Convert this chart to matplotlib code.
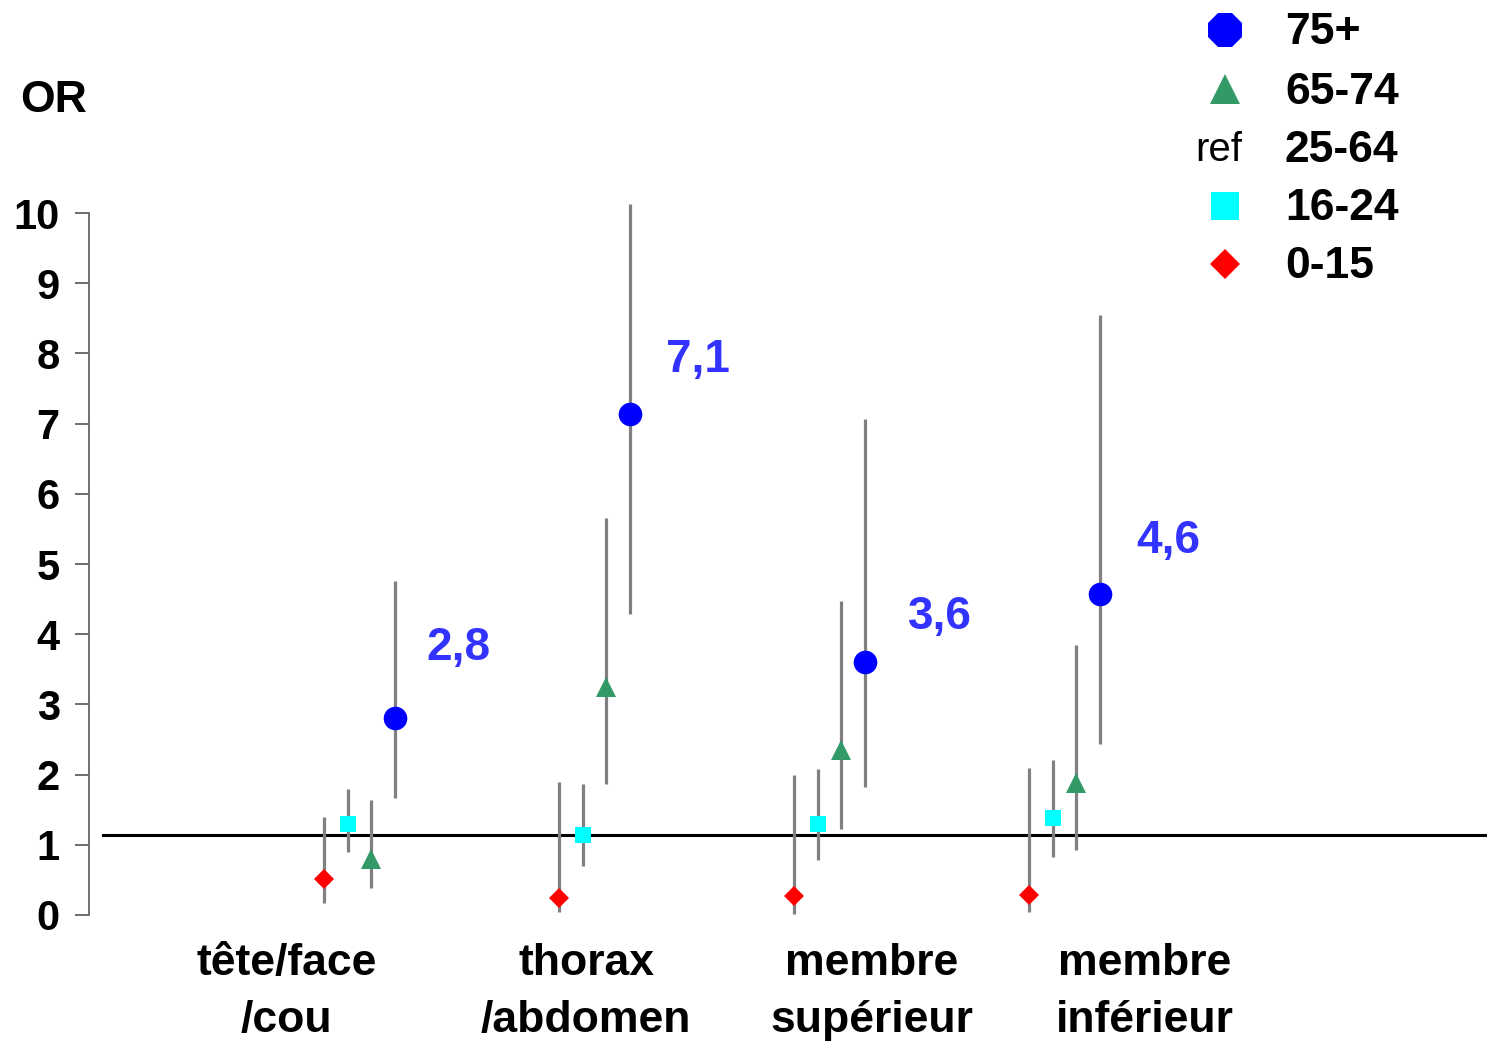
import matplotlib
matplotlib.use("Agg")
import matplotlib.pyplot as plt
import matplotlib.transforms as mtransforms

plt.rcParams['font.family'] = ['Liberation Sans', 'DejaVu Sans']

# Body regions (x categories)
regions = ["tête/face\n/cou", "thorax\n/abdomen", "membre\nsupérieur", "membre\ninférieur"]

# Odds ratios with 95% CI, one list per age band (ref = 25-64)
or_0_15 = [0.51, 0.24, 0.27, 0.28]
lo_0_15 = [0.17, 0.04, 0.02, 0.04]
hi_0_15 = [1.40, 1.89, 2.00, 2.09]

or_16_24 = [1.30, 1.14, 1.30, 1.38]
lo_16_24 = [0.90, 0.70, 0.78, 0.83]
hi_16_24 = [1.80, 1.86, 2.08, 2.21]

or_65_74 = [0.80, 3.25, 2.35, 1.88]
lo_65_74 = [0.38, 1.86, 1.22, 0.92]
hi_65_74 = [1.64, 5.66, 4.48, 3.84]

or_75 = [2.81, 7.14, 3.61, 4.57]
lo_75 = [1.67, 4.29, 1.82, 2.44]
hi_75 = [4.76, 10.13, 7.07, 8.55]

value_labels = ["2,8", "7,1", "3,6", "4,6"]
ref_level = 1.14

legend_labels = ["75+", "65-74", "25-64", "16-24", "0-15"]
yticks = list(range(0, 11))

# layout tweaks
label_dx = [0.27, 0.29, 0.32, 0.29]       # value label shift right of the 75+ point
label_dy = [1.0, 0.77, 0.63, 0.76]        # value label height above the point
region_dx = [-0.16, 0.115, 0.33, 0.49]    # category label shift

fig = plt.figure(figsize=(14.87, 10.43), dpi=100)
ax = fig.add_axes([89 / 1487, 128 / 1043, (1483 - 89) / 1487, 702 / 1043])

series = [
    (or_0_15, lo_0_15, hi_0_15, 0.0, 'D', 'red', 10),
    (or_16_24, lo_16_24, hi_16_24, 0.1, 's', 'cyan', 12),
    (or_65_74, lo_65_74, hi_65_74, 0.2, '^', '#339966', 14.5),
    (or_75, lo_75, hi_75, 0.3, 'o', 'blue', 17),
]

# reference line
ax.plot([-0.94, 5.0], [ref_level, ref_level], color='black', lw=2.2, zorder=2, clip_on=False)

for vals, lo, hi, off, mk, col, ms in series:
    xs = [i + off for i in range(len(vals))]
    ax.vlines(xs, lo, hi, color='#808080', lw=2.3, zorder=3, clip_on=False)
    ax.plot(xs, vals, linestyle='none', marker=mk, color=col, markersize=ms,
            markeredgewidth=0, zorder=4, clip_on=False)

for i, (v, lab) in enumerate(zip(or_75, value_labels)):
    ax.text(i + 0.3 + label_dx[i], v + label_dy[i], lab, color='#3333FF', fontsize=33,
            fontweight='bold', ha='center', va='center')

trans = mtransforms.blended_transform_factory(ax.transData, ax.transAxes)
for i, name in enumerate(regions):
    ax.text(i + region_dx[i], -0.04, name, transform=trans, ha='center', va='top',
            fontsize=32, fontweight='bold', linespacing=1.5)

ax.set_xlim(-1.0, 4.93)
ax.set_ylim(0, 10)
ax.set_yticks(yticks)
ax.set_yticklabels([str(t) for t in yticks], fontsize=30, fontweight='bold')
ax.tick_params(axis='y', length=10, width=1.2, color='#555555', pad=11)
ax.set_xticks([])
for s in ['top', 'right', 'bottom']:
    ax.spines[s].set_visible(False)
ax.spines['left'].set_color('#666666')
ax.spines['left'].set_linewidth(1.3)

fig.text(20 / 1487, 1 - 100 / 1043, "OR", fontsize=32, fontweight='bold', ha='left', va='center')

# legend drawn by hand
leg_y = [30, 89, 147, 206, 264]
leg_marks = [('8', 'blue', 27), ('^', '#339966', 22), (None, None, None), ('s', 'cyan', 20), ('D', 'red', 15)]
for y, lab, (mk, col, ms) in zip(leg_y, legend_labels, leg_marks):
    fy = 1 - y / 1043
    ty = 1 - (y + 3) / 1043
    if mk is None:
        fig.text(1219 / 1487, ty, "ref", fontsize=29, ha='center', va='center')
    else:
        fig.add_artist(plt.Line2D([1225 / 1487], [fy], marker=mk, color=col, markersize=ms,
                                  markeredgewidth=0, linestyle='none', transform=fig.transFigure))
    fig.text(1285 / 1487, ty, lab, fontsize=32, fontweight='bold', ha='left', va='center')

fig.savefig("out.png", dpi=100)
